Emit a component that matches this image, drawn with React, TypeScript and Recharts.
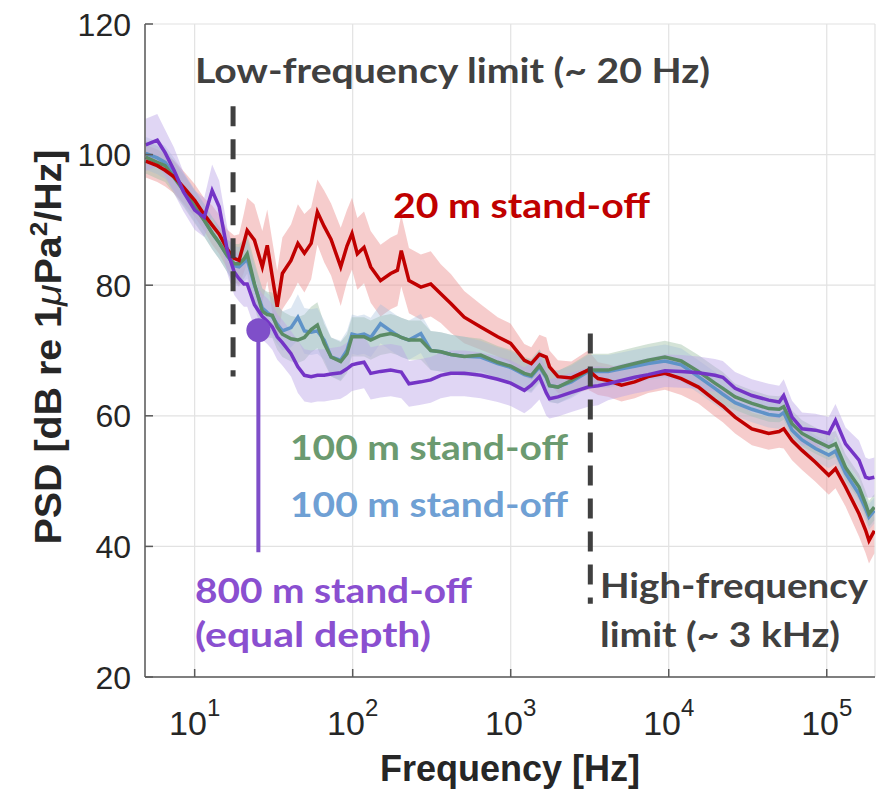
import React from 'react';
import {
  ComposedChart, Area, Line, XAxis, YAxis, CartesianGrid, ReferenceLine, ReferenceDot,
} from 'recharts';

// frequency grid (Hz) shared by all four PSD curves
const FREQ = [
  4.9, 5.8, 6.5, 7.4, 8.5, 10, 11.5, 12.9, 14.3, 16.1,
  17.8, 19.1, 20.5, 21.5, 23.9, 26.8, 28.8, 31, 33.3, 35.9,
  40.7, 45, 49.5, 54.6, 59.8, 66, 73, 84, 92, 99,
  107, 118, 130, 150, 174, 192, 203, 227, 270, 312,
  361, 418, 508, 646, 827, 1000, 1220, 1350, 1520, 1680,
  1760, 1990, 2420, 3090, 3570, 4130, 5020, 6090, 7410, 9460,
  12000, 15400, 19600, 22000, 26300, 33600, 42900, 50000, 53400, 60300,
  69800, 84800, 103000, 113600, 131500, 160000, 176000, 185000, 200000,
];

// 20 m stand-off
const RED = [
  99.0, 98.3, 97.6, 96.6, 95.0, 93.0, 90.8, 89.2, 87.8, 85.5,
  84.1, 83.8, 86.5, 88.4, 86.9, 82.8, 86.1, 81.3, 76.7, 81.8,
  83.8, 86.4, 84.9, 86.4, 91.2, 89.0, 87.0, 82.8, 86.0, 87.9,
  84.8, 85.8, 82.8, 80.7, 81.8, 82.3, 85.3, 80.7, 79.7, 80.2,
  78.7, 77.2, 75.1, 73.6, 72.1, 71.1, 68.5, 68.0, 69.4, 69.0,
  67.5, 66.0, 65.8, 67.0, 65.7, 65.4, 64.7, 65.2, 66.0, 66.5,
  65.7, 64.4, 62.4, 61.5, 59.8, 58.0, 57.3, 57.6, 58.0, 56.2,
  54.7, 52.9, 50.9, 51.9, 49.1, 45.0, 42.5, 40.9, 42.4,
];
const RED_SPREAD = [
  2.5, 2.5, 2.5, 2.5, 2.5, 2.5, 2.5, 3, 3, 3,
  3.5, 4, 4.5, 5, 5.5, 5.5, 5.5, 5.5, 5.5, 5.5,
  5.5, 6, 6, 5.5, 5, 5.5, 5.5, 6, 5.5, 5.5,
  5.5, 5.5, 5.5, 5.5, 5.5, 5.5, 5.5, 5, 5, 5,
  4.5, 4.5, 4, 3.5, 3, 3, 2.5, 2.5, 3, 3,
  2.5, 2.5, 2.5, 3, 2.5, 2.5, 2.5, 2.5, 2.5, 2.5,
  2.5, 2.5, 2.5, 2.5, 2.5, 2.5, 2.5, 2.5, 3, 3,
  3, 3, 3, 3, 3, 3.5, 3.5, 3.5, 3.5,
];

// 100 m stand-off (green)
const GREEN = [
  99.6, 98.8, 98.3, 96.5, 94.5, 92.0, 89.9, 88.0, 86.5, 84.5,
  83.3, 83.3, 84.0, 84.8, 80.2, 76.0, 75.5, 75.4, 73.6, 72.5,
  71.8, 71.6, 72.0, 73.2, 73.9, 71.1, 69.0, 68.3, 69.5, 72.1,
  72.1, 72.1, 71.6, 72.3, 72.6, 72.3, 72.0, 71.6, 71.6, 70.0,
  69.8, 69.4, 69.1, 69.3, 68.2, 67.6, 66.5, 66.2, 67.7, 66.0,
  64.6, 64.4, 65.4, 67.0, 67.0, 67.0, 67.5, 68.0, 68.5, 69.0,
  68.4, 66.8, 65.0, 64.2, 62.9, 61.9, 61.1, 61.0, 61.4, 58.8,
  57.3, 56.2, 55.2, 55.7, 52.1, 49.1, 46.5, 45.0, 46.0,
];
const GREEN_SPREAD = [
  2.5, 2.5, 2.5, 2.5, 2.5, 2.5, 2.5, 2.5, 2.5, 2.5,
  3, 3, 3, 3, 3.5, 3.5, 3.5, 3.5, 3.5, 3.5,
  3.5, 3.5, 3.5, 3.5, 3.5, 3, 3, 3, 3, 3,
  3, 3, 3, 3, 3, 3, 3, 3, 3, 3,
  3, 3, 3, 2.5, 2.5, 2.5, 2.5, 2.5, 2.5, 2.5,
  2.5, 2.5, 2.5, 2.5, 2.5, 2.5, 2.5, 2.5, 2.5, 2.5,
  2.5, 2.5, 2.5, 2.5, 2, 2, 2, 2, 2, 2,
  2, 2, 2, 2, 2, 2, 2, 2, 2,
];

// 100 m stand-off (blue)
const BLUE = [
  100.2, 99.5, 98.8, 97.0, 94.8, 92.2, 90.0, 88.0, 86.5, 84.5,
  83.0, 82.8, 83.5, 84.0, 80.0, 76.5, 75.8, 75.2, 74.0, 73.0,
  73.5, 75.1, 73.0, 72.8, 73.0, 71.6, 69.0, 68.5, 70.0, 72.5,
  72.3, 72.5, 72.0, 74.1, 73.0, 72.3, 72.0, 71.6, 72.6, 70.0,
  69.8, 69.4, 69.1, 69.0, 68.0, 67.4, 66.3, 66.0, 67.5, 65.8,
  64.6, 64.4, 65.2, 66.8, 66.8, 66.8, 67.2, 67.6, 68.0, 68.4,
  67.8, 66.0, 64.2, 63.3, 62.0, 61.0, 60.2, 60.0, 60.5, 57.8,
  56.3, 55.0, 54.0, 54.6, 51.2, 48.0, 45.8, 44.5, 45.5,
];
const BLUE_SPREAD = [
  2.5, 2.5, 2.5, 2.5, 2.5, 2.5, 2.5, 2.5, 2.5, 2.5,
  3, 3, 3, 3, 3, 3, 3, 3, 3, 3,
  3, 3.5, 3.5, 3.5, 3.5, 3, 3, 3, 3, 3,
  3, 3, 3, 3, 3, 3, 3, 3, 3, 3,
  3, 3, 3, 2.5, 2.5, 2.5, 2.5, 2.5, 2.5, 2.5,
  2.5, 2.5, 2.5, 2.5, 2.5, 2.5, 2.5, 2.5, 2.5, 2.5,
  2.5, 2.5, 2.5, 2.5, 2, 2, 2, 2, 2, 2,
  2, 2, 2, 2, 2, 2, 2, 2, 2,
];

// 800 m stand-off (equal depth)
const PURPLE = [
  101.5, 102.2, 100.3, 97.6, 94.3, 91.5, 90.4, 94.5, 92.0, 85.3,
  82.0, 81.0, 80.2, 80.2, 77.0, 75.2, 74.5, 73.6, 72.1, 71.2,
  69.5, 67.5, 66.2, 66.0, 66.2, 66.2, 66.4, 66.6, 67.2, 67.8,
  68.0, 68.2, 66.5, 66.8, 67.0, 66.8, 66.7, 64.9, 65.2, 65.5,
  66.2, 66.5, 66.5, 66.2, 65.6, 65.0, 63.9, 64.7, 66.0, 63.5,
  62.6, 62.9, 63.6, 64.4, 64.6, 64.9, 65.4, 65.9, 66.3, 66.9,
  66.8, 66.6, 66.2, 65.9, 64.2, 63.1, 62.4, 62.1, 63.1, 59.8,
  58.0, 57.8, 57.3, 59.3, 55.7, 53.2, 50.6, 50.4, 50.6,
];
const PURPLE_SPREAD = [
  4, 4, 3.5, 3.5, 3, 3, 3, 4, 4, 3.5,
  3.5, 3.5, 3.5, 3.5, 3.5, 3.5, 3.5, 3.5, 3.5, 3.5,
  3.5, 4, 4, 4, 4, 4, 4, 4, 4, 4,
  4, 4, 4, 4, 4, 4, 4, 3.5, 3.5, 3.5,
  3.5, 3.5, 3.5, 3.5, 3.5, 3.5, 3.5, 3.5, 3.5, 3.5,
  3, 3, 3, 3, 3, 2.5, 2.5, 2.5, 2.5, 2.5,
  2.5, 2.5, 2.5, 2.5, 2.5, 2.5, 2.5, 2.5, 2.5, 2.5,
  2.5, 2.5, 2.5, 2.5, 2.5, 3, 3, 3, 3,
];

const X_TICKS = [10, 100, 1000, 10000, 100000];
const Y_TICKS = [20, 40, 60, 80, 100, 120];
const X_DOMAIN = [4.85, 202000];
const Y_DOMAIN = [20, 120];

// dashed limit markers and the 800 m pointer (Hz, dB)
const LOW_LIMIT = [{ x: 17.5, y: 107.4 }, { x: 17.5, y: 66 }];
const HIGH_LIMIT = [{ x: 3190, y: 72.6 }, { x: 3190, y: 31.2 }];
const POINTER = [{ x: 25.3, y: 73.1 }, { x: 25.3, y: 39.1 }];

const data = FREQ.map((f, i) => ({
  f,
  red: RED[i],
  redBand: [RED[i] - RED_SPREAD[i], RED[i] + RED_SPREAD[i]],
  green: GREEN[i],
  greenBand: [GREEN[i] - GREEN_SPREAD[i], GREEN[i] + GREEN_SPREAD[i]],
  blue: BLUE[i],
  blueBand: [BLUE[i] - BLUE_SPREAD[i], BLUE[i] + BLUE_SPREAD[i]],
  purple: PURPLE[i],
  purpleBand: [PURPLE[i] - PURPLE_SPREAD[i], PURPLE[i] + PURPLE_SPREAD[i]],
}));

const AXIS = '#5a5a5a';
const TICK_TEXT = '#262626';
const SANS = '"Liberation Sans", Arial, sans-serif';
const NOTE = 'Lato, "Open Sans", sans-serif';

const C_RED = '#c00000';
const C_GREEN = '#5b8c66';
const C_BLUE = '#5f93c8';
const C_PURPLE = '#7434c6';

const XTickBottom = ({ x, y, payload }: any) => {
  const exp = Math.round(Math.log10(payload.value));
  return (
    <g>
      <line x1={x} y1={y} x2={x} y2={y - 8} stroke={AXIS} strokeWidth={1.5} />
      <text x={x} y={y + 58} textAnchor="middle" fontFamily={SANS} fontSize={34} fill={TICK_TEXT}>
        10<tspan dy={-19} fontSize={24}>{exp}</tspan>
      </text>
    </g>
  );
};

const XTickTop = ({ x, y }: any) => (
  <line x1={x} y1={y} x2={x} y2={y + 8} stroke={AXIS} strokeWidth={1.5} />
);

const YTickLeft = ({ x, y, payload }: any) => (
  <g>
    <line x1={x} y1={y} x2={x + 8} y2={y} stroke={AXIS} strokeWidth={1.5} />
    <text x={x - 14} y={y + 11.5} textAnchor="end" fontFamily={SANS} fontSize={32} fill={TICK_TEXT}>
      {payload.value}
    </text>
  </g>
);

const YTickRight = ({ x, y }: any) => (
  <line x1={x} y1={y} x2={x - 8} y2={y} stroke={AXIS} strokeWidth={1.5} />
);

const Note = ({ x, y, w, color, children }: any) => (
  <text x={x} y={y} fill={color} fontFamily={NOTE} fontWeight={700} fontSize={35}
    textLength={w} lengthAdjust="spacingAndGlyphs">
    {children}
  </text>
);

export default function App() {
  return (
    <div style={{ position: 'absolute', left: 0, top: 0, width: 877, height: 792, background: '#fff' }}>
      <ComposedChart width={877} height={792} data={data}
        margin={{ top: 24, right: 2, left: 0, bottom: 0 }}>
        <CartesianGrid stroke="#e2e2e2" strokeWidth={1.2} />
        <XAxis dataKey="f" type="number" scale="log" domain={X_DOMAIN} ticks={X_TICKS}
          allowDataOverflow interval={0} height={115} tickSize={0} tickMargin={0}
          tickLine={false} axisLine={{ stroke: AXIS, strokeWidth: 1.5 }} tick={XTickBottom} />
        <XAxis xAxisId="top" orientation="top" dataKey="f" type="number" scale="log"
          domain={X_DOMAIN} ticks={X_TICKS} allowDataOverflow interval={0} height={0}
          tickSize={0} tickMargin={0} tickLine={false}
          axisLine={{ stroke: AXIS, strokeWidth: 1.5 }} tick={XTickTop} />
        <YAxis type="number" domain={Y_DOMAIN} ticks={Y_TICKS} interval={0} width={145}
          tickSize={0} tickMargin={0} tickLine={false}
          axisLine={{ stroke: AXIS, strokeWidth: 1.5 }} tick={YTickLeft} />
        <YAxis yAxisId="right" orientation="right" type="number" domain={Y_DOMAIN}
          ticks={Y_TICKS} interval={0} width={0} tickSize={0} tickMargin={0} tickLine={false}
          axisLine={{ stroke: AXIS, strokeWidth: 1.5 }} tick={YTickRight} />

        <Area dataKey="redBand" type="linear" stroke="none" fill="#ec8f8f" fillOpacity={0.45} isAnimationActive={false} />
        <Area dataKey="greenBand" type="linear" stroke="none" fill="#9fc1a6" fillOpacity={0.45} isAnimationActive={false} />
        <Area dataKey="blueBand" type="linear" stroke="none" fill="#9dbbd9" fillOpacity={0.35} isAnimationActive={false} />
        <Area dataKey="purpleBand" type="linear" stroke="none" fill="#bba3e6" fillOpacity={0.45} isAnimationActive={false} />

        <Line dataKey="blue" type="linear" stroke={C_BLUE} strokeWidth={3.5} dot={false} isAnimationActive={false} />
        <Line dataKey="green" type="linear" stroke={C_GREEN} strokeWidth={3.5} dot={false} isAnimationActive={false} />
        <Line dataKey="red" type="linear" stroke={C_RED} strokeWidth={3.5} dot={false} isAnimationActive={false} />
        <Line dataKey="purple" type="linear" stroke={C_PURPLE} strokeWidth={3.5} dot={false} isAnimationActive={false} />

        <ReferenceLine segment={LOW_LIMIT} stroke="#404040" strokeWidth={5} strokeDasharray="20 13" />
        <ReferenceLine segment={HIGH_LIMIT} stroke="#404040" strokeWidth={5} strokeDasharray="20 13" />
        <ReferenceLine segment={POINTER} stroke="#7f4fc9" strokeWidth={4} />
        <ReferenceDot x={POINTER[0].x} y={POINTER[0].y} r={12} fill="#7f4fc9" stroke="none" />
      </ComposedChart>

      <svg width={877} height={792} style={{ position: 'absolute', left: 0, top: 0, pointerEvents: 'none' }}>
        <text transform="translate(61,347) rotate(-90)" textAnchor="middle" fontFamily={SANS}
          fontWeight={700} fontSize={36} fill={TICK_TEXT} textLength={395} lengthAdjust="spacingAndGlyphs">
          PSD [dB re 1<tspan fontStyle="italic" fontWeight={400}>μ</tspan>Pa<tspan dy={-14} fontSize={24}>2</tspan><tspan dy={14}>/Hz]</tspan>
        </text>
        <text x={510} y={781} textAnchor="middle" fontFamily={SANS} fontWeight={700} fontSize={36} fill={TICK_TEXT}>
          Frequency [Hz]
        </text>

        <Note x={195} y={83} w={515} color="#404040">Low-frequency limit (~ 20 Hz)</Note>
        <Note x={393} y={218} w={257} color="#c00000">20 m stand-off</Note>
        <Note x={290} y={460} w={278} color="#6b9a70">100 m stand-off</Note>
        <Note x={290} y={517} w={278} color="#6fa0d4">100 m stand-off</Note>
        <Note x={195} y={603} w={277} color="#8a4fd0">800 m stand-off</Note>
        <Note x={195} y={647} w={236} color="#8a4fd0">(equal depth)</Note>
        <Note x={600} y={598} w={268} color="#404040">High-frequency</Note>
        <Note x={600} y={647} w={240} color="#404040">limit (~ 3 kHz)</Note>
      </svg>
    </div>
  );
}
